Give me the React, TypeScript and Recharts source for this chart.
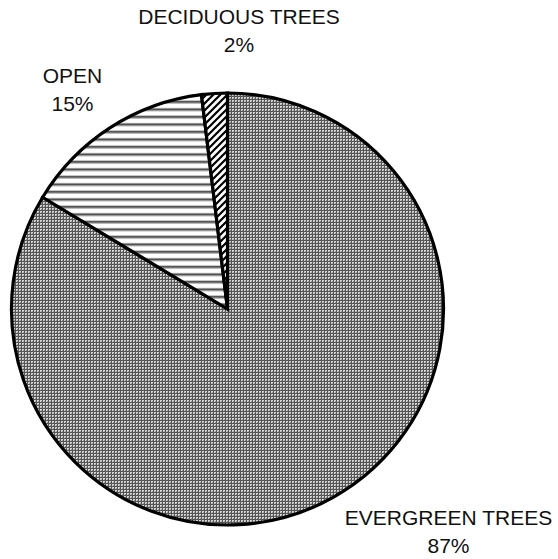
import { PieChart, Pie, Cell } from 'recharts';

// land cover shares, clockwise from 12 o'clock
const categories = ['EVERGREEN TREES', 'OPEN', 'DECIDUOUS TREES'];
const shares = [87, 15, 2];
const fills = ['url(#checker)', 'url(#hlines)', 'url(#diag)'];

// where each two-line label sits, measured from the pie centre
const labelShift: [number, number][] = [
  [221, 216],
  [-155, -226],
  [11.5, -285],
];

const data = categories.map((name, i) => ({ name, value: shares[i] }));

const W = 558;
const H = 559;

function renderLabel(props: any) {
  const { cx, cy, index, name, value } = props;
  const [dx, dy] = labelShift[index];
  const x = cx + dx;
  const y = cy + dy;
  return (
    <text
      x={x}
      y={y}
      textAnchor="middle"
      fill="#111"
      fontSize={21}
      fontFamily="'Liberation Sans', Arial, sans-serif"
    >
      <tspan x={x} y={y}>{name}</tspan>
      <tspan x={x} y={y + 28}>{value}%</tspan>
    </text>
  );
}

export default function App() {
  return (
    <div style={{ position: 'absolute', left: 0, top: 0, width: W, height: H, background: '#fff' }}>
      <PieChart width={W} height={H} margin={{ top: 0, right: 0, bottom: 0, left: 0 }}>
        <defs>
          <pattern id="checker" patternUnits="userSpaceOnUse" width={3} height={3}>
            <rect width={3} height={3} fill="#d4d4d4" />
            <rect x={0} y={0} width={3} height={1} fill="#555" />
            <rect x={0} y={0} width={1} height={3} fill="#555" />
            <rect x={2} y={2} width={1} height={1} fill="#9a9a9a" />
          </pattern>
          <pattern id="hlines" patternUnits="userSpaceOnUse" width={8} height={7.5}>
            <rect width={8} height={7.5} fill="#fff" />
            <rect y={3} width={8} height={1} fill="#9a9a9a" />
            <rect y={4} width={8} height={1} fill="#000" />
            <rect y={5} width={8} height={1} fill="#6a6a6a" />
          </pattern>
          <pattern id="diag" patternUnits="userSpaceOnUse" width={7} height={7}>
            <rect width={7} height={7} fill="#fff" />
            <path d="M-1,1 l2,-2 M0,7 l7,-7 M6,8 l2,-2" stroke="#000" strokeWidth={2.2} />
          </pattern>
        </defs>
        <Pie
          data={data}
          dataKey="value"
          nameKey="name"
          cx={227.5}
          cy={309}
          outerRadius={216}
          startAngle={90}
          endAngle={-270}
          stroke="#000"
          strokeWidth={3.2}
          label={renderLabel}
          labelLine={false}
          isAnimationActive={false}
        >
          {data.map((d, i) => (
            <Cell key={d.name} fill={fills[i]} stroke="#000" strokeWidth={3.2} />
          ))}
        </Pie>
      </PieChart>
    </div>
  );
}
